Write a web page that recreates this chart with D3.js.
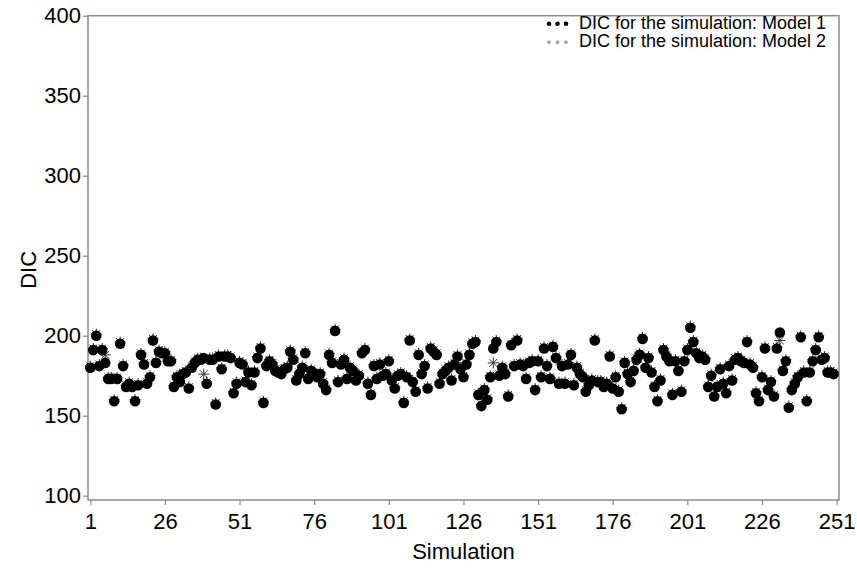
<!DOCTYPE html>
<html>
<head>
<meta charset="utf-8">
<script src="https://cdn.jsdelivr.net/npm/d3@7"></script>
<style>
  html, body { margin: 0; padding: 0; background: #fff; }
  svg { display: block; font-family: "Liberation Sans", Arial, sans-serif; }
</style>
</head>
<body>
<svg id="chart" width="857" height="570"></svg>
<script>
// DIC per simulation run, model 1
const model1 = [
  180,191,200,181,191,183,173,173,159,173,
  195,181,168,170,168,159,169,188,182,170,
  174,197,183,190,189,189,184,184,168,174,
  171,176,177,167,180,183,185,185,186,170,
  185,185,157,187,179,187,187,186,164,170,
  183,182,171,177,169,177,186,192,158,181,
  184,182,178,177,176,179,180,190,185,172,
  176,180,189,173,178,176,174,176,170,166,
  188,183,203,171,182,185,173,180,178,172,
  175,189,191,170,163,181,173,182,175,176,
  184,172,167,175,176,158,174,197,171,165,
  188,176,181,167,192,190,188,170,176,178,
  180,172,182,187,179,174,182,188,195,196,
  163,156,166,160,174,192,196,175,180,176,
  162,194,181,197,182,181,173,183,184,166,
  184,174,192,181,173,193,186,170,181,170,
  182,188,169,180,176,174,165,169,172,197,
  171,171,168,170,187,167,174,165,154,183,
  176,171,178,185,188,198,180,186,177,168,
  159,172,191,187,184,163,184,178,165,184,
  191,205,196,189,186,187,185,168,175,162,
  168,179,170,164,181,172,185,186,184,183,
  196,182,180,164,159,174,192,166,171,162,
  192,202,178,184,155,166,170,174,199,177,
  159,177,184,191,199,185,186,177,177,176
];

// DIC per simulation run, model 2
const model2 = [
  181,192,201,182,192,188,174,174,160,174,
  196,182,169,171,169,160,170,189,183,171,
  175,198,184,191,190,190,185,185,169,175,
  172,177,178,168,181,184,186,186,176,171,
  186,186,158,188,180,188,188,187,165,171,
  184,183,172,178,170,178,187,193,159,182,
  185,183,179,178,177,180,181,191,186,173,
  177,181,190,174,179,177,175,177,171,167,
  189,184,204,172,183,186,174,181,179,173,
  176,190,192,171,164,182,174,183,176,177,
  185,173,168,176,177,159,175,198,172,166,
  189,177,182,168,193,191,189,171,177,179,
  181,173,183,188,180,175,183,189,196,197,
  164,157,167,161,175,183,197,176,181,177,
  163,195,182,198,183,182,174,184,185,167,
  185,175,193,182,174,194,187,171,182,171,
  183,189,170,181,177,175,166,170,173,198,
  172,172,169,171,188,168,175,166,155,184,
  177,172,179,186,189,199,181,187,178,169,
  160,173,192,188,185,164,185,179,166,185,
  192,206,197,190,187,188,186,169,176,163,
  169,180,171,165,182,173,186,187,185,184,
  197,183,181,165,160,175,193,167,172,163,
  193,197,179,185,156,167,171,175,200,178,
  160,178,185,192,200,186,187,178,178,177
];

const simulations = d3.range(1, model1.length + 1);

const xTicks = [1, 26, 51, 76, 101, 126, 151, 176, 201, 226, 251];
const yTicks = [100, 150, 200, 250, 300, 350, 400];

const xTitle = "Simulation";
const yTitle = "DIC";
const legendLabels = ["DIC for the simulation: Model 1", "DIC for the simulation: Model 2"];

const svg = d3.select("#chart");

const frame = { left: 88, right: 839, top: 15.7, bottom: 500 };

const x = d3.scaleLinear().domain([1, 251]).range([90.3, 836.6]);
const y = d3.scaleLinear().domain([100, 400]).range([495.7, 15.7]);

const axisColor = "#8a8a8a";
const labelFont = "Liberation Sans, Arial, sans-serif";

// plot frame
svg.append("rect")
  .attr("x", frame.left).attr("y", frame.top)
  .attr("width", frame.right - frame.left)
  .attr("height", frame.bottom - frame.top)
  .attr("fill", "none")
  .attr("stroke", axisColor)
  .attr("stroke-width", 1.5);

// y axis
const yAxis = svg.append("g")
  .attr("transform", `translate(${frame.left},0)`)
  .call(d3.axisLeft(y).tickValues(yTicks).tickSize(5).tickPadding(2).tickFormat(d3.format("d")));
yAxis.select(".domain").remove();
yAxis.selectAll(".tick line").attr("stroke", axisColor).attr("stroke-width", 1.2);
yAxis.selectAll(".tick text")
  .attr("font-size", 22)
  .attr("fill", "#000")
  .attr("font-family", labelFont);

// x axis
const xAxis = svg.append("g")
  .attr("transform", `translate(0,${frame.bottom})`)
  .call(d3.axisBottom(x).tickValues(xTicks).tickSize(5).tickPadding(8).tickFormat(d3.format("d")));
xAxis.select(".domain").remove();
xAxis.selectAll(".tick line").attr("stroke", axisColor).attr("stroke-width", 1.2);
xAxis.selectAll(".tick text")
  .attr("font-size", 22)
  .attr("fill", "#000")
  .attr("font-family", labelFont);

// axis titles
svg.append("text")
  .attr("x", (frame.left + frame.right) / 2)
  .attr("y", 559)
  .attr("text-anchor", "middle")
  .attr("font-size", 22)
  .attr("font-family", labelFont)
  .text(xTitle);

svg.append("text")
  .attr("transform", `translate(36,${(frame.top + frame.bottom) / 2 + 12}) rotate(-90)`)
  .attr("text-anchor", "middle")
  .attr("font-size", 22)
  .attr("font-family", labelFont)
  .text(yTitle);

// asterisk symbol path
function asteriskPath(r) {
  let p = "";
  for (let k = 0; k < 4; k++) {
    const a = k * Math.PI / 4;
    const dx = r * Math.cos(a), dy = r * Math.sin(a);
    p += `M${-dx},${-dy}L${dx},${dy}`;
  }
  return p;
}

const plot = svg.append("g");

// model 2: asterisks (behind the circles)
plot.selectAll("path.m2")
  .data(simulations)
  .join("path")
  .attr("class", "m2")
  .attr("transform", (d, i) => `translate(${x(d)},${y(model2[i])})`)
  .attr("d", asteriskPath(5.5))
  .attr("stroke", "#333")
  .attr("stroke-width", 1)
  .attr("fill", "none");

// model 1: filled circles
plot.selectAll("circle.m1")
  .data(simulations)
  .join("circle")
  .attr("class", "m1")
  .attr("cx", d => x(d))
  .attr("cy", (d, i) => y(model1[i]))
  .attr("r", 5.3)
  .attr("fill", "#000");

// legend
const legend = svg.append("g");
const legendRows = [28.7, 47.3];
legendLabels.forEach((label, i) => {
  const row = legend.append("g").attr("transform", `translate(0,${legendRows[i]})`);
  [549, 557.5, 566].forEach(cx => {
    if (i === 0) {
      row.append("circle").attr("cx", cx).attr("cy", -5).attr("r", 2.3).attr("fill", "#000");
    } else {
      row.append("path")
        .attr("transform", `translate(${cx},-5)`)
        .attr("d", asteriskPath(2))
        .attr("stroke", "#888")
        .attr("stroke-width", 0.8);
    }
  });
  row.append("text")
    .attr("x", 579)
    .attr("y", 0)
    .attr("font-size", 18)
    .attr("font-family", labelFont)
    .attr("fill", "#000")
    .text(label);
});
</script>
</body>
</html>
